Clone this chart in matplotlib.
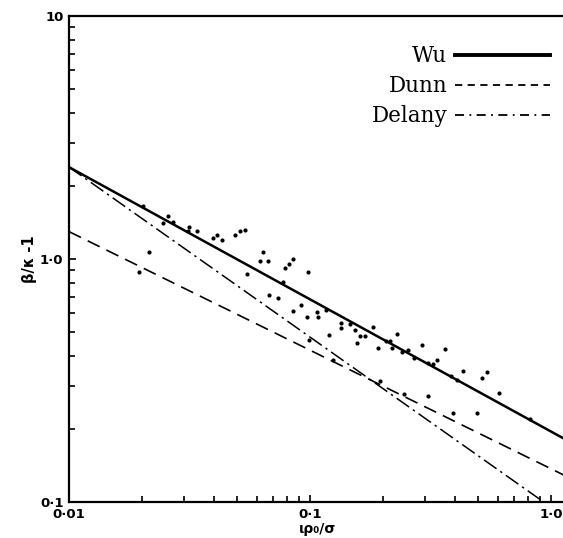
import matplotlib
matplotlib.use("Agg")
import matplotlib.pyplot as plt
import numpy as np
from matplotlib.ticker import FixedLocator, LogLocator, NullFormatter
from matplotlib.lines import Line2D

# scatter data (x = r rho0/sigma, y = beta/kappa - 1)
pts_x = [0.0202, 0.0215, 0.0196, 0.0257, 0.0246, 0.0269, 0.0316, 0.0311, 0.0339,
         0.0395, 0.0411, 0.0430, 0.0490, 0.0510, 0.0535, 0.0548, 0.0640, 0.0620,
         0.0668, 0.0852, 0.0822, 0.0790, 0.0981, 0.0775, 0.0678, 0.0735, 0.0918,
         0.0848, 0.107, 0.117, 0.0969, 0.108, 0.120, 0.135, 0.135, 0.147, 0.153,
         0.162, 0.169, 0.156, 0.182, 0.0993, 0.192, 0.207, 0.215, 0.218, 0.229,
         0.240, 0.256, 0.271, 0.292, 0.309, 0.325, 0.336, 0.363, 0.383, 0.407,
         0.430, 0.515, 0.544, 0.607, 0.818, 0.124, 0.196, 0.245, 0.308, 0.392, 0.492]
pts_y = [1.66, 1.07, 0.880, 1.51, 1.41, 1.42, 1.36, 1.30, 1.30,
         1.22, 1.25, 1.20, 1.25, 1.31, 1.32, 0.868, 1.07, 0.977,
         0.977, 1.00, 0.954, 0.918, 0.884, 0.807, 0.714, 0.691, 0.644,
         0.611, 0.607, 0.614, 0.577, 0.577, 0.487, 0.545, 0.518, 0.540, 0.510,
         0.480, 0.480, 0.451, 0.524, 0.464, 0.429, 0.461, 0.460, 0.429, 0.490,
         0.414, 0.422, 0.390, 0.443, 0.375, 0.369, 0.384, 0.425, 0.329, 0.318,
         0.347, 0.325, 0.342, 0.280, 0.219, 0.384, 0.315, 0.279, 0.272, 0.233, 0.233]

# power-law fits y = A * x**b
models = ["Wu", "Dunn", "Delany"]
coef_A = [0.195, 0.137, 0.0952]
coef_b = [-0.544, -0.488, -0.70]

x_ticks = [0.01, 0.1, 1.0]
x_ticklabels = ["0·01", "0·1", "1·0"]
y_ticks = [0.1, 1.0, 10]
y_ticklabels = ["0·1", "1·0", "10"]

W, H = 563, 538
fig = plt.figure(figsize=(W / 100, H / 100), dpi=100)
ax = fig.add_axes([69 / W, (H - 502) / H, 496 / W, 486 / H])
ax.set_xscale("log")
ax.set_yscale("log")
ax.set_xlim(0.01, 1.143)
ax.set_ylim(0.1, 10)

xx = np.logspace(-2, np.log10(1.143), 200)
styles = [dict(ls="-", lw=1.8),
          dict(ls=(0, (8, 4.5)), lw=1.2),
          dict(ls=(0, (10, 3, 1.5, 3)), lw=1.1)]
for A, b, st in zip(coef_A, coef_b, styles):
    ax.plot(xx, A * xx ** b, color="black", **st)

ax.scatter(pts_x, pts_y, s=9, color="black", zorder=3, linewidths=0)

# legend (handles on right)
handles = [Line2D([], [], color="black", ls="-", lw=2.8),
           Line2D([], [], color="black", ls=(0, (4, 3)), lw=1.3),
           Line2D([], [], color="black", ls=(0, (5, 3, 1, 3)), lw=1.3)]
leg = ax.legend(handles, models, loc="upper right", bbox_to_anchor=(1.008, 0.980),
                frameon=False, markerfirst=False, handlelength=4.4, handletextpad=0.35,
                labelspacing=0.38, prop=dict(family="DejaVu Serif", size=15.5))

ax.spines["right"].set_visible(False)
for s in ["left", "bottom", "top"]:
    ax.spines[s].set_linewidth(1.6)

ax.xaxis.set_major_locator(FixedLocator(x_ticks))
ax.yaxis.set_major_locator(FixedLocator(y_ticks))
ax.xaxis.set_minor_locator(LogLocator(base=10, subs=np.arange(2, 10)))
ax.yaxis.set_minor_locator(LogLocator(base=10, subs=np.arange(2, 10)))
ax.xaxis.set_minor_formatter(NullFormatter())
ax.yaxis.set_minor_formatter(NullFormatter())
ax.set_xticklabels(x_ticklabels, fontsize=9.5, fontweight="bold")
ax.set_yticklabels(y_ticklabels, fontsize=9.5, fontweight="bold")
ax.tick_params(which="both", direction="in", top=False, right=False, width=1.2)
ax.tick_params(which="major", length=5, pad=4)
ax.tick_params(which="minor", length=4)

ax.set_xlabel("ιρ₀/σ", fontsize=10, fontweight="bold", labelpad=1)
ax.set_ylabel("β/κ -1", fontsize=10.5, fontweight="bold", labelpad=2)

fig.savefig("out.png", dpi=100)
